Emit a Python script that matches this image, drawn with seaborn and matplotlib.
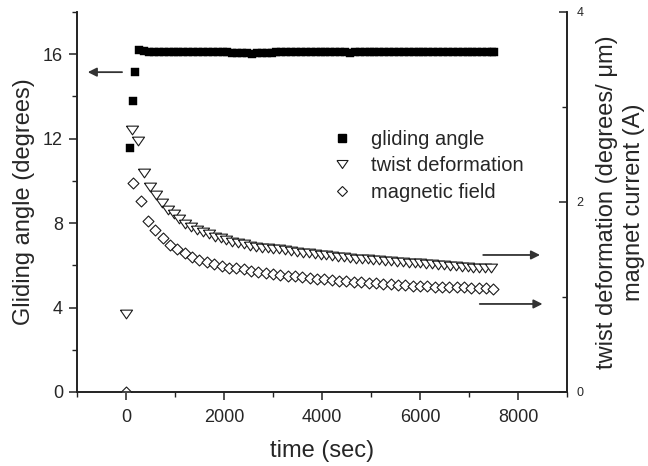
import matplotlib
matplotlib.use("Agg")
import matplotlib.pyplot as plt
from matplotlib.lines import Line2D
from matplotlib.ticker import MultipleLocator, FixedLocator
import seaborn as sns
import pandas as pd

# ---------------- data ----------------
# gliding angle (left axis, degrees)
glide_t = [81, 136, 189,
           270, 370, 470, 570, 670, 770, 870, 970, 1070, 1170,
           1270, 1370, 1470, 1570, 1670, 1770, 1870, 1970, 2070, 2170,
           2270, 2370, 2470, 2570, 2670, 2770, 2870, 2970, 3070, 3170,
           3270, 3370, 3470, 3570, 3670, 3770, 3870, 3970, 4070, 4170,
           4270, 4370, 4470, 4570, 4670, 4770, 4870, 4970, 5070, 5170,
           5270, 5370, 5470, 5570, 5670, 5770, 5870, 5970, 6070, 6170,
           6270, 6370, 6470, 6570, 6670, 6770, 6870, 6970, 7070, 7170,
           7270, 7370, 7470, 7520]
glide_v = [11.54, 13.80, 15.17,
           16.22, 16.14, 16.12, 16.11, 16.11, 16.10, 16.10, 16.11, 16.10, 16.10,
           16.11, 16.10, 16.10, 16.09, 16.10, 16.10, 16.09, 16.10, 16.09, 16.08,
           16.08, 16.07, 16.05, 16.03, 16.04, 16.06, 16.08, 16.08, 16.09, 16.09,
           16.10, 16.10, 16.09, 16.09, 16.10, 16.10, 16.09, 16.09, 16.10, 16.09,
           16.10, 16.10, 16.09, 16.08, 16.09, 16.09, 16.10, 16.10, 16.09, 16.09,
           16.10, 16.10, 16.09, 16.10, 16.10, 16.09, 16.10, 16.10, 16.09, 16.09,
           16.10, 16.10, 16.09, 16.10, 16.10, 16.09, 16.10, 16.10, 16.09, 16.10,
           16.10, 16.10, 16.10, 16.10]

# twist deformation (right axis, degrees/um)
twist_t = [0, 130, 250, 370, 490, 610, 730, 850, 970, 1090,
           1210, 1330, 1450, 1570, 1690, 1810, 1930, 2050, 2170, 2290,
           2410, 2530, 2650, 2770, 2890, 3010, 3130, 3250, 3370, 3490,
           3610, 3730, 3850, 3970, 4090, 4210, 4330, 4450, 4570, 4690,
           4810, 4930, 5050, 5170, 5290, 5410, 5530, 5650, 5770, 5890,
           6010, 6130, 6250, 6370, 6490, 6610, 6730, 6850, 6970, 7090,
           7210, 7330, 7450]
twist_v = [0.82, 2.76, 2.64, 2.30, 2.16, 2.07, 1.99, 1.92, 1.87, 1.82,
           1.77, 1.74, 1.71, 1.68, 1.66, 1.63, 1.62, 1.60, 1.58, 1.57,
           1.56, 1.54, 1.53, 1.52, 1.52, 1.51, 1.50, 1.49, 1.48, 1.47,
           1.46, 1.46, 1.45, 1.44, 1.44, 1.43, 1.42, 1.42, 1.41, 1.40,
           1.40, 1.40, 1.39, 1.39, 1.38, 1.38, 1.37, 1.37, 1.36, 1.36,
           1.36, 1.35, 1.35, 1.34, 1.34, 1.33, 1.33, 1.32, 1.32, 1.31,
           1.31, 1.30, 1.30]

# magnetic field / magnet current (right axis, A)
field_t = [0, 150, 300, 450, 600, 750, 900, 1050, 1200, 1350,
           1500, 1650, 1800, 1950, 2100, 2250, 2400, 2550, 2700, 2850,
           3000, 3150, 3300, 3450, 3600, 3750, 3900, 4050, 4200, 4350,
           4500, 4650, 4800, 4950, 5100, 5250, 5400, 5550, 5700, 5850,
           6000, 6150, 6300, 6450, 6600, 6750, 6900, 7050, 7200, 7350,
           7500]
field_v = [0.00, 2.20, 2.01, 1.80, 1.70, 1.62, 1.55, 1.50, 1.46, 1.42,
           1.39, 1.37, 1.35, 1.33, 1.31, 1.30, 1.29, 1.27, 1.26, 1.25,
           1.24, 1.23, 1.22, 1.22, 1.21, 1.20, 1.19, 1.19, 1.18, 1.17,
           1.17, 1.16, 1.16, 1.15, 1.15, 1.14, 1.14, 1.13, 1.13, 1.12,
           1.12, 1.12, 1.11, 1.11, 1.10, 1.10, 1.10, 1.09, 1.09, 1.09,
           1.08]

legend_labels = ["gliding angle", "twist deformation", "magnetic field"]
x_ticks = [0, 2000, 4000, 6000, 8000]
left_ticks = [0, 4, 8, 12, 16]
right_ticks = [0, 2, 4]

# ---------------- style ----------------
sns.set_style("ticks")
plt.rcParams['font.family'] = ['Liberation Sans', 'DejaVu Sans']
plt.rcParams['axes.linewidth'] = 1.2
plt.rcParams['axes.edgecolor'] = '#222222'

fig = plt.figure(figsize=(6.48, 4.66), dpi=100)
ax = fig.add_axes([0.1188, 0.1588, 0.7562, 0.8155])
ax2 = ax.twinx()

tri_marker = [(-1.0, 0.72), (1.0, 0.72), (0.0, -0.72), (-1.0, 0.72)]

df_g = pd.DataFrame({"t": glide_t, "v": glide_v})
df_t = pd.DataFrame({"t": twist_t, "v": twist_v})
df_f = pd.DataFrame({"t": field_t, "v": field_v})

sns.scatterplot(data=df_g, x="t", y="v", ax=ax, marker="s", s=32,
                color="black", edgecolor="black", linewidth=0.3, legend=False)
sns.scatterplot(data=df_t, x="t", y="v", ax=ax2, marker=tri_marker, s=76,
                facecolor="white", edgecolor="#1a1a1a", linewidth=0.8, legend=False)
sns.scatterplot(data=df_f, x="t", y="v", ax=ax2, marker="D", s=31,
                facecolor="white", edgecolor="#1a1a1a", linewidth=0.8, legend=False)

# axes limits / ticks
ax.set_xlim(-1000, 9000)
ax.set_ylim(0, 18)
ax2.set_ylim(0, 4)

ax.xaxis.set_major_locator(FixedLocator(x_ticks))
ax.xaxis.set_minor_locator(MultipleLocator(1000))
ax.yaxis.set_major_locator(FixedLocator(left_ticks))
ax.yaxis.set_minor_locator(MultipleLocator(2))
ax2.yaxis.set_major_locator(FixedLocator(right_ticks))
ax2.yaxis.set_minor_locator(MultipleLocator(1))

ax.tick_params(axis='both', which='major', direction='out', length=6, width=1.1,
               labelsize=13, pad=4, color='#222222')
ax.tick_params(axis='both', which='minor', direction='out', length=3.5, width=1.0,
               color='#222222')
ax.tick_params(axis='x', which='major', pad=6)
ax2.tick_params(axis='y', which='major', direction='in', length=6, width=1.1,
                labelsize=9, pad=7, color='#222222')
ax2.tick_params(axis='y', which='minor', direction='in', length=3.5, width=1.0,
                color='#222222')

for a in (ax, ax2):
    a.spines['top'].set_visible(False)
ax2.spines['right'].set_visible(True)

ax.set_xlabel("time (sec)", fontsize=17, labelpad=10)
ax.set_ylabel("Gliding angle (degrees)", fontsize=17, labelpad=6)
ax2.set_ylabel("twist deformation (degrees/ \u03bcm)\nmagnet current (A)",
               fontsize=17, labelpad=9, linespacing=1.3)

# arrows
arrow_kw = dict(arrowstyle='-|>', color='#333333', lw=1.3, mutation_scale=13,
                shrinkA=0, shrinkB=0)
ax.annotate("", xy=(-780, 15.15), xytext=(-80, 15.15), arrowprops=arrow_kw)
ax.annotate("", xy=(8450, 6.49), xytext=(7290, 6.49), arrowprops=arrow_kw)
ax.annotate("", xy=(8500, 4.17), xytext=(7220, 4.17), arrowprops=arrow_kw)

# legend
handles = [
    Line2D([], [], linestyle='none', marker='s', markersize=5.5,
           markerfacecolor='black', markeredgecolor='black'),
    Line2D([], [], linestyle='none', marker=tri_marker, markersize=8,
           markerfacecolor='white', markeredgecolor='#1a1a1a', markeredgewidth=0.8),
    Line2D([], [], linestyle='none', marker='D', markersize=5,
           markerfacecolor='white', markeredgecolor='#1a1a1a', markeredgewidth=0.8),
]
ax2.legend(handles, legend_labels, loc='upper left', bbox_to_anchor=(0.52, 0.69),
           frameon=False, fontsize=14.5, handlelength=1.0, handletextpad=0.95,
           labelspacing=0.38, borderpad=0, borderaxespad=0)

fig.savefig("out.png", dpi=100)
